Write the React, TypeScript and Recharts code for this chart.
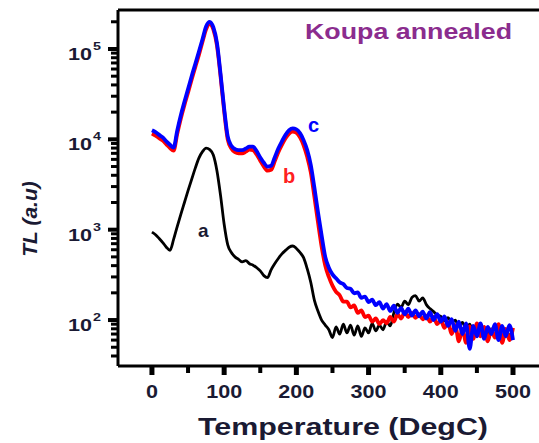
import { LineChart, Line, XAxis, YAxis, ReferenceLine } from 'recharts';

// temperature (DegC)
const TEMPS = [
  0, 5, 10, 15, 20, 25, 30, 35, 40, 45,
  50, 55, 60, 65, 70, 75, 80, 85, 90, 95,
  100, 105, 110, 115, 120, 125, 130, 135, 140, 145,
  150, 155, 160, 165, 170, 175, 180, 185, 190, 195,
  200, 205, 210, 215, 220, 225, 230, 235, 240, 245,
  250, 255, 260, 265, 270, 275, 280, 285, 290, 295,
  300, 305, 310, 315, 320, 325, 330, 335, 340, 345,
  350, 355, 360, 365, 370, 375, 380, 385, 390, 395,
  400, 405, 410, 415, 420, 425, 430, 435, 440, 445,
  450, 455, 460, 465, 470, 475, 480, 485, 490, 495,
  500,
];

// curve a (black)
const TL_A = [
  940, 880, 800, 720, 640, 590, 780, 1080, 1480, 2000,
  2700, 3600, 4800, 6200, 7300, 8000, 7700, 6700, 4500, 2400,
  1150, 680, 560, 500, 470, 440, 455, 420, 405, 380,
  350, 310, 295, 360, 420, 480, 540, 590, 640, 660,
  620, 560, 490, 370, 260, 165, 125, 100, 88, 78,
  64, 84, 70, 90, 72, 88, 68, 86, 66, 82,
  72, 92, 76, 88, 78, 96, 86, 120, 150, 138,
  162, 148, 178, 186, 162, 176, 148, 134, 124, 114,
  110, 98, 106, 94, 100, 86, 94, 80, 90, 74,
  86, 70, 82, 68, 80, 66, 82, 64, 78, 68,
  72,
];

// curve b (red)
const TL_B = [
  11600, 11000, 10300, 9700, 8800, 8000, 7500, 11500, 17000, 24000,
  33000, 46000, 63000, 86000, 120000, 165000, 190000, 165000, 110000, 50000,
  20500, 9900, 7900, 7200, 7000, 7000, 7300, 7700, 7600, 6800,
  5800, 5000, 4500, 4600, 5700, 7200, 8700, 10300, 11600, 12200,
  11800, 10500, 8600, 6400, 4300, 2300, 1200, 650, 400, 300,
  240, 205, 188, 160, 160, 138, 145, 120, 128, 108,
  112, 96, 104, 90, 100, 92, 108, 96, 116, 104,
  122, 108, 120, 106, 116, 102, 112, 96, 108, 90,
  100, 82, 95, 70, 88, 58, 80, 56, 85, 62,
  92, 66, 84, 58, 78, 64, 90, 56, 80, 60,
  82,
];

// curve c (blue)
const TL_C = [
  12600, 12000, 11200, 10500, 9500, 8700, 8100, 12500, 18500, 26000,
  36000, 50000, 68000, 93000, 128000, 178000, 200000, 174000, 117000, 53000,
  22000, 10700, 8500, 7800, 7600, 7600, 7900, 8300, 8300, 7400,
  6300, 5500, 5000, 5100, 6300, 7900, 9500, 11200, 12600, 13200,
  12900, 11700, 9800, 7600, 5200, 2900, 1550, 860, 500, 380,
  320, 290, 262, 250, 226, 222, 198, 202, 176, 182,
  158, 168, 146, 158, 134, 150, 126, 144, 120, 136,
  116, 134, 112, 128, 110, 124, 104, 122, 100, 116,
  96, 110, 86, 102, 76, 96, 70, 92, 48, 86,
  66, 92, 62, 84, 70, 90, 60, 86, 66, 88,
  60,
];

const X_TICKS = [0, 50, 100, 150, 200, 250, 300, 350, 400, 450, 500];
const Y_MAJOR = [100, 1000, 10000, 100000];
const Y_TICKS = [
  40, 50, 60, 70, 80, 90, 100,
  200, 300, 400, 500, 600, 700, 800, 900, 1000,
  2000, 3000, 4000, 5000, 6000, 7000, 8000, 9000, 10000,
  20000, 30000, 40000, 50000, 60000, 70000, 80000, 90000, 100000,
  200000,
];

const X_DOMAIN = [-47, 536];
const Y_DOMAIN = [31, 270000];

const data = TEMPS.map((t, i) => ({ t, a: TL_A[i], b: TL_B[i], c: TL_C[i] }));

const W = 539;
const H = 443;
const LEFT = 118;
const TOP = 10;
const BOTTOM = 366;
const FONT = '"Liberation Sans", Arial, sans-serif';
const INK = '#1a1a33';

function XTick(props: any) {
  const { x, payload } = props;
  const v = payload.value;
  const major = v % 100 === 0;
  const label = String(v);
  return (
    <g>
      <line x1={x} x2={x} y1={BOTTOM} y2={BOTTOM + (major ? 9 : 7)} stroke="#000" strokeWidth={major ? 5 : 4} />
      {major && (
        <text x={x} y={398} textAnchor="middle" fontSize={18} fontWeight="bold" fontFamily={FONT} fill={INK}
          textLength={label.length * 12} lengthAdjust="spacingAndGlyphs">
          {label}
        </text>
      )}
    </g>
  );
}

function YTick(props: any) {
  const { y, payload } = props;
  const v = payload.value;
  const major = Y_MAJOR.includes(v);
  const exp = Math.round(Math.log10(v));
  return (
    <g>
      <line x1={LEFT} x2={LEFT - (major ? 10 : 7)} y1={y} y2={y} stroke="#000" strokeWidth={major ? 4 : 3} />
      {major && (
        <g fontWeight="bold" fontFamily={FONT} fill={INK}>
          <text x={68} y={y + 11} fontSize={17} textLength={24} lengthAdjust="spacingAndGlyphs">10</text>
          <text x={93} y={y + 1} fontSize={11} textLength={8} lengthAdjust="spacingAndGlyphs">{exp}</text>
        </g>
      )}
    </g>
  );
}

export default function App() {
  return (
    <div style={{ position: 'absolute', left: 0, top: 0, width: W, height: H, background: '#fff' }}>
      <LineChart width={W} height={H} data={data} margin={{ top: TOP, right: 0, bottom: 0, left: 0 }}>
        <XAxis
          dataKey="t"
          type="number"
          domain={X_DOMAIN}
          ticks={X_TICKS}
          interval={0}
          allowDataOverflow
          height={H - BOTTOM}
          tickSize={0}
          tickMargin={0}
          tickLine={false}
          axisLine={{ stroke: '#000', strokeWidth: 3 }}
          tick={<XTick />}
        />
        <YAxis
          type="number"
          scale="log"
          domain={Y_DOMAIN}
          allowDataOverflow
          ticks={Y_TICKS}
          interval={0}
          width={LEFT}
          tickSize={0}
          tickMargin={0}
          tickLine={false}
          axisLine={{ stroke: '#000', strokeWidth: 3 }}
          tick={<YTick />}
        />
        <ReferenceLine y={Y_DOMAIN[1]} stroke="#000" strokeWidth={3} />
        <Line type="monotone" dataKey="a" stroke="#000" strokeWidth={2.8} dot={false} isAnimationActive={false} />
        <Line type="monotone" dataKey="b" stroke="#ff0000" strokeWidth={3.8} dot={false} isAnimationActive={false} />
        <Line type="monotone" dataKey="c" stroke="#0000ff" strokeWidth={3.8} dot={false} isAnimationActive={false} />
      </LineChart>
      <svg width={W} height={H} style={{ position: 'absolute', left: 0, top: 0, pointerEvents: 'none' }}>
        <g fontFamily={FONT} fontWeight="bold">
          <text x={305} y={39} fontSize={22} fill="#8b2c8e" textLength={207} lengthAdjust="spacingAndGlyphs">Koupa annealed</text>
          <text x={308} y={132} fontSize={20} fill="#0000ff">c</text>
          <text x={283} y={183} fontSize={20} fill="#ff2020">b</text>
          <text x={198} y={237} fontSize={19} fill={INK}>a</text>
          <text x={198} y={435} fontSize={23} fill={INK} textLength={290} lengthAdjust="spacingAndGlyphs">Temperature (DegC)</text>
          <text x={37} y={219} fontSize={21} fontStyle="italic" fill={INK} textAnchor="middle" transform="rotate(-90 37 219)">TL (a.u)</text>
        </g>
      </svg>
    </div>
  );
}
